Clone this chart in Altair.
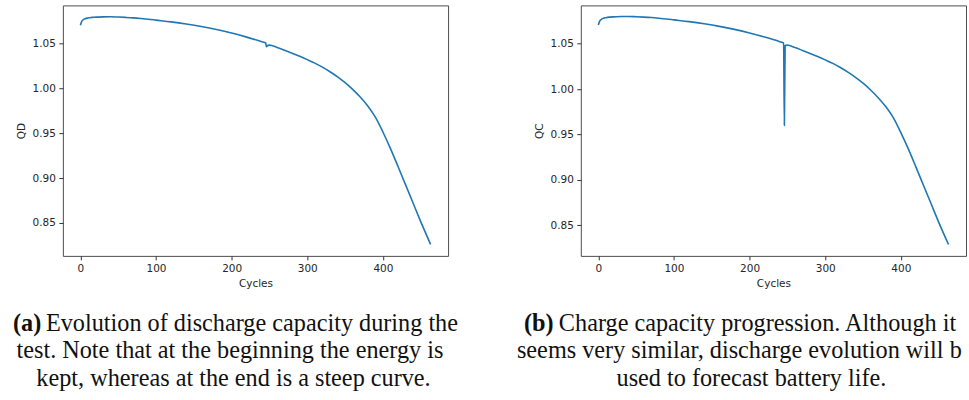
import altair as alt
import pandas as pd

# ---------------- data ----------------
CYCLES = [0, 2, 5, 10, 15, 20, 30, 40, 50, 60, 70, 80, 90, 100, 120, 140, 160, 180,
          200, 220, 240, 245, 246, 247, 250, 260, 270, 280, 290, 300, 310, 320, 330,
          340, 350, 360, 370, 380, 390, 400, 410, 420, 430, 440, 450, 463]

QD = [1.0705, 1.0752, 1.0774, 1.0787, 1.0793, 1.0796, 1.0799, 1.0800, 1.0797, 1.0793,
      1.0788, 1.0781, 1.0773, 1.0763, 1.0743, 1.0719, 1.0691, 1.0658, 1.0619, 1.0573,
      1.0522, 1.0508, 1.0465, 1.0477, 1.0484, 1.0458, 1.0426, 1.0393, 1.0359, 1.0322,
      1.0283, 1.0238, 1.0187, 1.0130, 1.0065, 0.9990, 0.9905, 0.9805, 0.9680, 0.9515,
      0.9330, 0.9130, 0.8925, 0.8720, 0.8515, 0.8262]

QC = [1.0705, 1.0752, 1.0774, 1.0787, 1.0793, 1.0796, 1.0799, 1.0800, 1.0797, 1.0793,
      1.0788, 1.0781, 1.0773, 1.0763, 1.0743, 1.0719, 1.0691, 1.0658, 1.0619, 1.0573,
      1.0522, 1.0508, 0.9600, 1.0480, 1.0484, 1.0458, 1.0426, 1.0393, 1.0359, 1.0322,
      1.0283, 1.0238, 1.0187, 1.0130, 1.0065, 0.9990, 0.9905, 0.9807, 0.9685, 0.9520,
      0.9338, 0.9140, 0.8938, 0.8736, 0.8534, 0.8287]

X_TICKS = [0, 100, 200, 300, 400]
Y_TICKS = [0.85, 0.90, 0.95, 1.00, 1.05]

CAPTION_A = ["(a)", "Evolution of discharge capacity during the",
             "test. Note that at the beginning the energy is",
             "kept, whereas at the end is a steep curve."]
CAPTION_B = ["(b)", "Charge capacity progression. Although it is",
             "seems very similar, discharge evolution will be",
             "used to forecast battery life."]

# ---------------- style ----------------
W, H = 386, 251
X_DOMAIN = [-23.15, 486.15]
BLUE = "#1f77b4"
SERIF = "Liberation Serif"
CAP_FS = 24.3
ONE = alt.Data(values=[{}])


def txt(s, x, y, align="left", bold=False, limit=None):
    kw = dict(text=s, align=align, baseline="alphabetic", font=SERIF, fontSize=CAP_FS,
              fontWeight="bold" if bold else "normal", color="#111111")
    if limit is not None:
        kw["limit"] = limit
        kw["ellipsis"] = "\u200b"
    return alt.Chart(ONE).mark_text(**kw).encode(x=alt.value(x), y=alt.value(y))


def anchor(x, y):
    return alt.Chart(ONE).mark_rect(opacity=0).encode(
        x=alt.value(x), x2=alt.value(x + 1), y=alt.value(y), y2=alt.value(y + 1))


def curve(values, ytitle, ydomain):
    df = pd.DataFrame({"Cycles": CYCLES, "v": values})
    return alt.Chart(df).mark_line(color=BLUE, strokeWidth=1.6, interpolate="monotone").encode(
        x=alt.X("Cycles:Q", scale=alt.Scale(domain=X_DOMAIN, nice=False, zero=False),
                axis=alt.Axis(values=X_TICKS, title="Cycles", format="d")),
        y=alt.Y("v:Q", scale=alt.Scale(domain=ydomain, nice=False, zero=False),
                axis=alt.Axis(values=Y_TICKS, title=ytitle, format=".2f")),
    )


left = alt.layer(
    curve(QD, "QD", [0.8133, 1.0927]),
    anchor(-62, -4),
    txt(CAPTION_A[0], -50, 326, bold=True),
    txt(CAPTION_A[1], -17, 326),
    txt(CAPTION_A[2], 167.4, 353.5, align="center"),
    txt(CAPTION_A[3], 171, 381, align="center"),
).properties(width=W, height=H)

right = alt.layer(
    curve(QC, "QC", [0.8162, 1.0922]),
    anchor(387, 395),
    txt(CAPTION_B[0], -57, 326, bold=True),
    txt(CAPTION_B[1], -22, 326, limit=410),
    txt(CAPTION_B[2], -64, 353.5, limit=452),
    txt(CAPTION_B[3], 171, 381, align="center"),
).properties(width=W, height=H)

chart = alt.hconcat(left, right, spacing=133, bounds="flush").properties(
    padding=0
).configure_axis(
    domain=False, grid=False, ticks=True, tickColor="#333333", tickSize=4,
    labelFont="DejaVu Sans", labelFontSize=10.5, labelColor="#262626", labelPadding=3.5,
    titleFont="DejaVu Sans", titleFontSize=10.5, titleFontWeight="normal",
    titleColor="#262626",
).configure_axisX(titlePadding=5).configure_axisY(titlePadding=6).configure_view(
    stroke="#4d4d4d", strokeWidth=1
)

chart.save("out.html", embed_options={"renderer": "svg", "actions": False})
